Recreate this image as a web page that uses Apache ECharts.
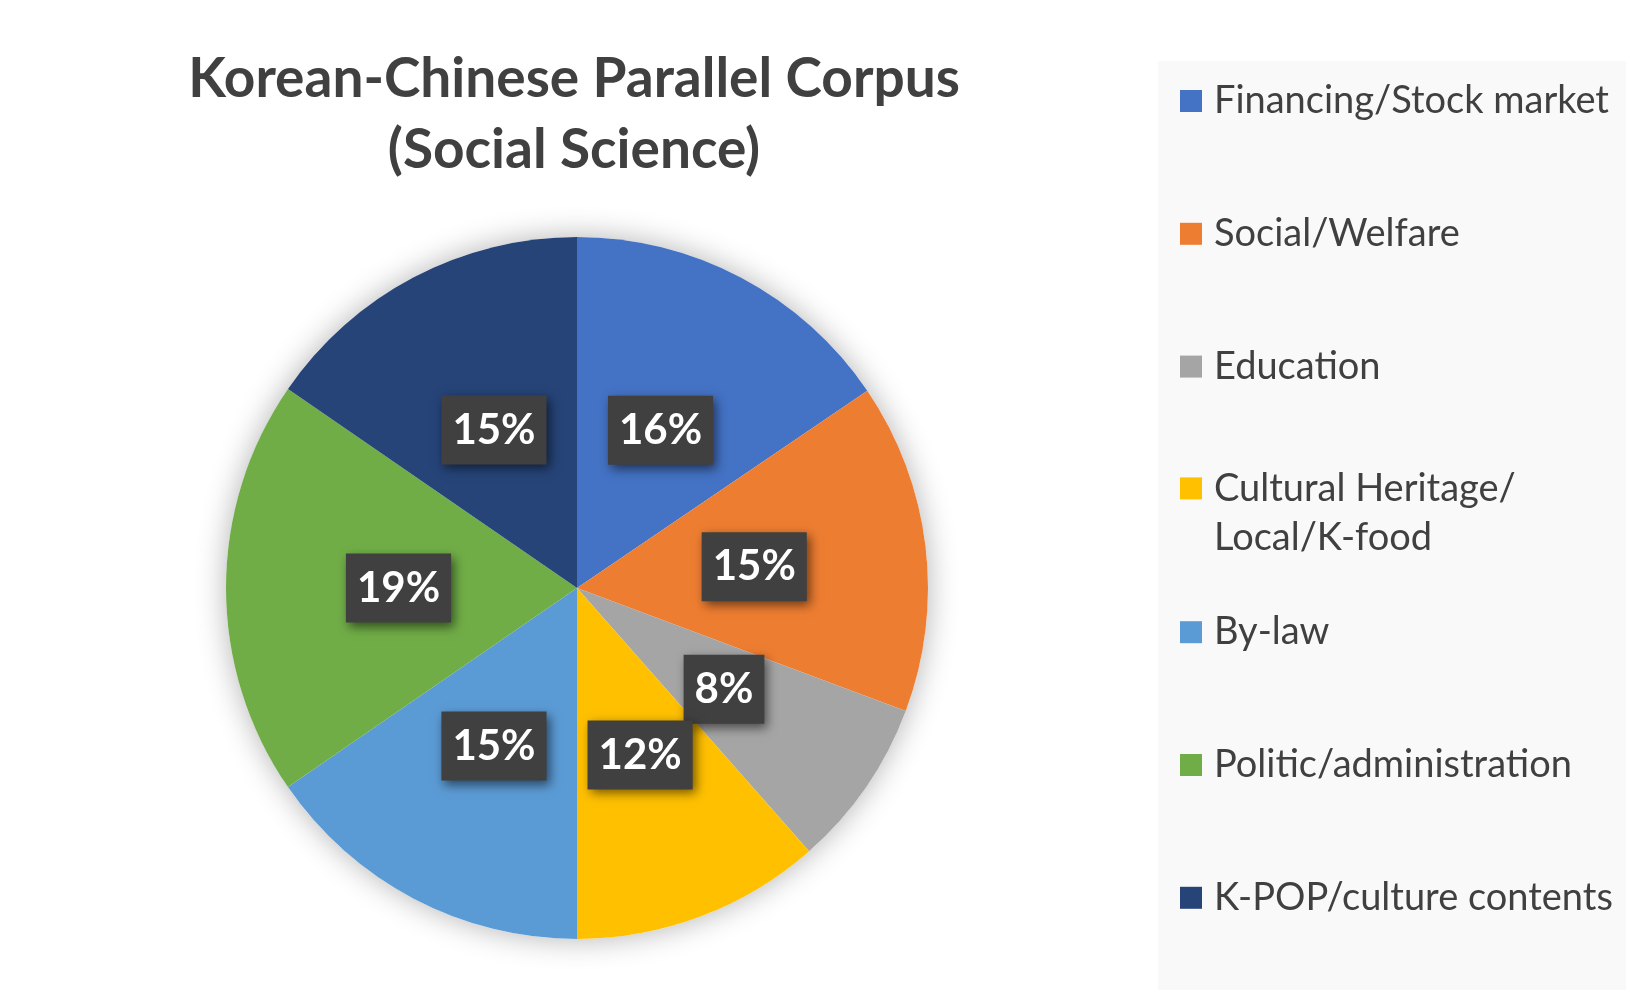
<!DOCTYPE html>
<html>
<head>
<meta charset="utf-8">
<script src="https://cdn.jsdelivr.net/npm/echarts@6/dist/echarts.min.js"></script>
<style>
  html, body { margin: 0; padding: 0; background: #fff; }
  #chart { width: 1650px; height: 990px; }
</style>
</head>
<body>
<div id="chart"></div>
<script>
const categories = [
  'Financing/Stock market',
  'Social/Welfare',
  'Education',
  'Cultural Heritage/\nLocal/K-food',
  'By-law',
  'Politic/administration',
  'K-POP/culture contents'
]
const shares = [15.5, 15.2, 7.8, 11.5, 15.4, 19.2, 15.4]
const colors = ['#4472C4', '#ED7D31', '#A5A5A5', '#FFC000', '#5B9BD5', '#70AD47', '#264478']

const chart = echarts.init(document.getElementById('chart'))

// one legend per entry so they spread evenly like the original
const legends = categories.map((name, i) => {
  const multi = name.indexOf('\n') > -1
  const cy = 101 + i * 132.8
  return {
    data: [name],
    orient: 'vertical',
    left: 1180,
    top: multi ? cy - 11 - 73.5 : cy - 24.5,
    padding: 0,
    itemWidth: 22,
    itemHeight: 22,
    icon: 'rect',
    selectedMode: false,
    // blank first line keeps the icon level with the first text line
    formatter: (n) => multi ? '\n' + n : n,
    textStyle: {
      fontFamily: 'Lato',
      fontSize: 38,
      color: '#404040',
      lineHeight: 49,
      padding: [0, 0, 0, 7]
    }
  }
})

const option = {
  animation: false,
  backgroundColor: '#fff',
  color: colors,
  title: {
    text: 'Korean-Chinese Parallel Corpus\n(Social Science)',
    left: 569,
    top: 39,
    textAlign: 'center',
    textStyle: {
      fontFamily: 'Lato',
      fontWeight: 'bold',
      fontSize: 55,
      lineHeight: 71,
      color: '#404040'
    }
  },
  graphic: [{
    type: 'rect',
    z: -1,
    shape: { x: 1158, y: 61, width: 468, height: 929 },
    style: { fill: '#f9f9f9' }
  }],
  legend: legends,
  series: [
    {
      // soft glow behind the pie
      type: 'pie',
      silent: true,
      z: 1,
      center: [577, 588],
      radius: 351,
      label: { show: false },
      itemStyle: {
        color: '#fff',
        shadowBlur: 30,
        shadowColor: 'rgba(0,0,0,0.3)'
      },
      data: [{ value: 1, name: '' }]
    },
    {
      type: 'pie',
      z: 2,
      center: [577, 588],
      radius: 351,
      startAngle: 90,
      clockwise: true,
      percentPrecision: 0,
      avoidLabelOverlap: false,
      labelLayout: { hideOverlap: false },
      itemStyle: { borderWidth: 0 },
      label: {
        show: true,
        position: 'inside',
        formatter: '{d}%',
        fontFamily: 'Lato',
        fontWeight: 'bold',
        fontSize: 42,
        lineHeight: 47,
        color: '#fff',
        backgroundColor: '#404040',
        padding: [11, 11, 11, 11],
        shadowColor: 'rgba(0,0,0,0.55)',
        shadowBlur: 10,
        shadowOffsetX: 3,
        shadowOffsetY: 4
      },
      labelLine: { show: false },
      data: categories.map((name, i) => ({ name: name, value: shares[i] }))
    }
  ]
}

chart.setOption(option)
</script>
</body>
</html>
